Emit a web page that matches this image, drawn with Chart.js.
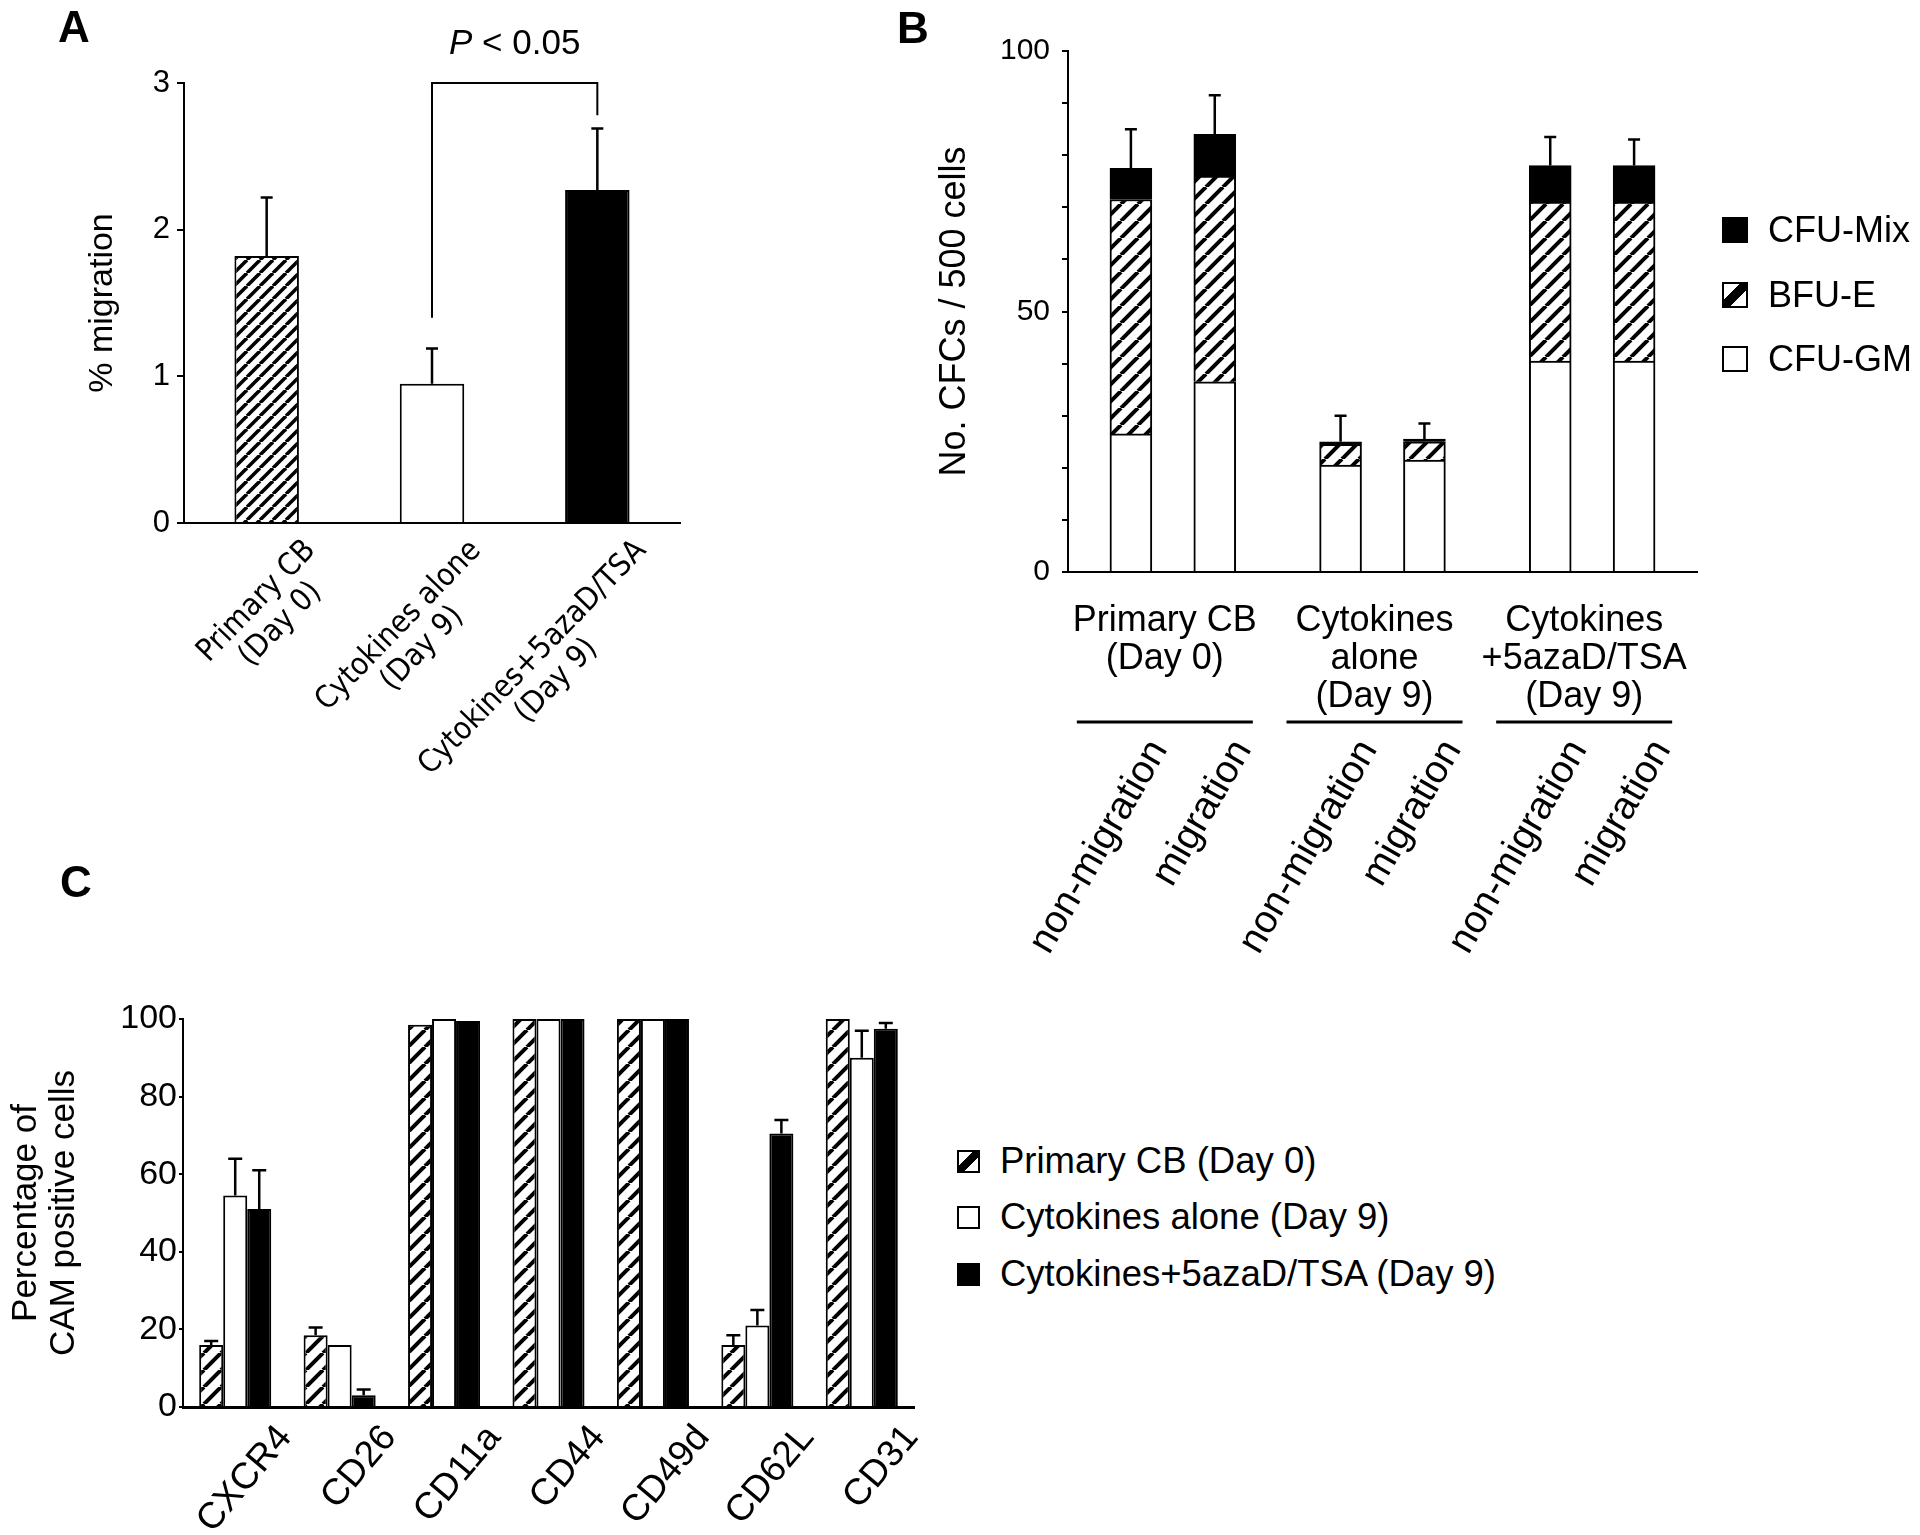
<!DOCTYPE html>
<html><head><meta charset="utf-8">
<script src="https://cdn.jsdelivr.net/npm/chart.js@4.4.1/dist/chart.umd.min.js"></script>
<style>
body{margin:0;background:#fff;}
#wrap{position:relative;width:1920px;height:1535px;overflow:hidden;font-family:"Liberation Sans",Arial,Helvetica,sans-serif;color:#000;background:#fff;}
canvas{position:absolute;}
.letter{position:absolute;font-weight:bold;font-size:44px;line-height:44px;}
.row{position:absolute;height:40px;display:flex;align-items:center;white-space:nowrap;}
.row span.t{line-height:40px;}
.sw{box-sizing:border-box;border:2px solid #000;flex:none;}
</style></head>
<body><div id="wrap">
<canvas id="cA" width="760" height="860" style="left:0;top:0"></canvas>
<canvas id="cB" width="1020" height="1000" style="left:900px;top:0"></canvas>
<canvas id="cC" width="950" height="675" style="left:0;top:860px"></canvas>
<div class="letter" style="left:58px;top:5px">A</div>
<div class="letter" style="left:897px;top:6px">B</div>
<div class="letter" style="left:60px;top:860px">C</div>
<div id="legB"></div>
<div id="legC"></div>
</div>
<script>
// ---------- Panel A data ----------
const groupsA = [["Primary CB", "(Day 0)"], ["Cytokines alone", "(Day 9)"], ["Cytokines+5azaD/TSA", "(Day 9)"]];
const migrationMean = [1.82, 0.95, 2.27];
const migrationErrTop = [2.22, 1.19, 2.69];
const bracketLevel = 3.0;
const bracketLeftEnd = 1.40;
const bracketRightEnd = 2.78;
const pValueText = ["P", " < 0.05"];

// ---------- Panel B data ----------
const cfcBarLabels = ["non-migration", "migration", "non-migration", "migration", "non-migration", "migration"];
const cfcGroupLabels = [["Primary CB", "(Day 0)"], ["Cytokines", "alone", "(Day 9)"], ["Cytokines", "+5azaD/TSA", "(Day 9)"]];
const cfuGM = [26.5, 36.5, 20.5, 21.5, 40.5, 40.5];
const bfuE = [45, 39.5, 4, 3.5, 30.5, 30.5];
const cfuMix = [6, 8, 0.5, 0.5, 7, 7];
const cfcErrTop = [85, 91.5, 30, 28.5, 83.5, 83];
const cfcSeries = ["CFU-GM", "BFU-E", "CFU-Mix"];
const cfcTickValues = [0, 50, 100];

// ---------- Panel C data ----------
const camLabels = ["CXCR4", "CD26", "CD11a", "CD44", "CD49d", "CD62L", "CD31"];
const camSeries = ["Primary CB (Day 0)", "Cytokines alone (Day 9)", "Cytokines+5azaD/TSA (Day 9)"];
const camPrimary = [16, 18.5, 98.5, 100, 100, 16, 100];
const camPrimaryErr = [17, 20.5, null, null, null, 18.5, null];
const camCytokines = [54.5, 16, 100, 100, 100, 21, 90];
const camCytokinesErr = [64, null, null, null, null, 25, 97];
const camAzaTsa = [51, 3, 99.5, 100, 100, 70.5, 97.5];
const camAzaTsaErr = [61, 4.5, null, null, null, 74, 99];

// ---------- layout helpers (not data) ----------
const FONT = '"Liberation Sans", Arial, Helvetica, sans-serif';
const NARROW = '"Liberation Sans Narrow", "Arial Narrow", "DejaVu Sans Condensed", "Liberation Sans", sans-serif';
Chart.defaults.font.family = FONT;
Chart.defaults.color = '#000';
const BLACK = '#000';

function hatch(ctx, period, lw) {
  const c = document.createElement('canvas');
  c.width = period; c.height = period;
  const g = c.getContext('2d');
  g.fillStyle = '#fff'; g.fillRect(0, 0, period, period);
  g.strokeStyle = '#000'; g.lineWidth = lw;
  for (let k = -1; k <= 1; k++) {
    g.beginPath(); g.moveTo(k * period, period); g.lineTo(k * period + period, 0); g.stroke();
  }
  return ctx.createPattern(c, 'repeat');
}

function errorBarPlugin(sets, cap, lw) {
  return {
    id: 'errorBarsCustom',
    afterDatasetsDraw(chart) {
      const ctx = chart.ctx, y = chart.scales.y;
      ctx.save();
      ctx.strokeStyle = BLACK; ctx.lineWidth = lw;
      sets.forEach(set => {
        const meta = chart.getDatasetMeta(set.dataset);
        const vals = chart.data.datasets[set.dataset].data;
        meta.data.forEach((el, i) => {
          const v = set.tops[i];
          if (v == null || vals[i] == null) return;
          const yTop = y.getPixelForValue(v);
          ctx.beginPath();
          ctx.moveTo(el.x, el.y); ctx.lineTo(el.x, yTop);
          ctx.moveTo(el.x - cap, yTop); ctx.lineTo(el.x + cap, yTop);
          ctx.stroke();
        });
      });
      ctx.restore();
    }
  };
}

const axisY = (extra) => Object.assign({
  grid: { drawOnChartArea: false, drawTicks: true, tickLength: 7, color: BLACK, lineWidth: 2 },
  border: { color: BLACK, width: 2 },
}, extra);

// =============== Panel A ===============
const ctxA = document.getElementById('cA').getContext('2d');
const hatchA = hatch(ctxA, 13, 3.5);
const panelALabels = {
  id: 'panelALabels',
  afterDraw(chart) {
    const ctx = chart.ctx, x = chart.scales.x, y = chart.scales.y;
    ctx.save();
    ctx.fillStyle = BLACK;
    ctx.font = '31px ' + NARROW;
    const ang = -46 * Math.PI / 180, lh = 33;
    groupsA.forEach((lines, i) => {
      const px = x.getPixelForValue(i);
      const maxW = Math.max(...lines.map(l => ctx.measureText(l).width));
      ctx.save();
      ctx.translate(px + 33, x.top + 12);
      ctx.rotate(ang);
      ctx.textAlign = 'center'; ctx.textBaseline = 'top';
      lines.forEach((l, j) => ctx.fillText(l, -maxW / 2, j * lh));
      ctx.restore();
    });
    // significance bracket
    const meta = chart.getDatasetMeta(0).data;
    const xl = meta[1].x, xr = meta[2].x;
    const yt = y.getPixelForValue(bracketLevel);
    ctx.strokeStyle = BLACK; ctx.lineWidth = 2;
    ctx.beginPath();
    ctx.moveTo(xl, y.getPixelForValue(bracketLeftEnd));
    ctx.lineTo(xl, yt); ctx.lineTo(xr, yt);
    ctx.lineTo(xr, y.getPixelForValue(bracketRightEnd));
    ctx.stroke();
    const f1 = 'italic 35px ' + FONT, f2 = '35px ' + FONT;
    ctx.font = f1; const w1 = ctx.measureText(pValueText[0]).width;
    ctx.font = f2; const w2 = ctx.measureText(pValueText[1]).width;
    const cx = (xl + xr) / 2, x0 = cx - (w1 + w2) / 2, by = yt - 29;
    ctx.textAlign = 'left'; ctx.textBaseline = 'alphabetic';
    ctx.font = f1; ctx.fillText(pValueText[0], x0, by);
    ctx.font = f2; ctx.fillText(pValueText[1], x0 + w1, by);
    ctx.restore();
  }
};
new Chart(ctxA, {
  type: 'bar',
  data: {
    labels: groupsA.map(g => g.join(' ')),
    datasets: [{
      label: '% migration',
      data: migrationMean,
      backgroundColor: [hatchA, '#fff', BLACK],
      borderColor: BLACK, borderWidth: 2,
      barPercentage: 0.39, categoryPercentage: 1
    }]
  },
  options: {
    responsive: false, animation: false, devicePixelRatio: 1,
    layout: { padding: { left: 0, top: 83, right: 80, bottom: 0 } },
    plugins: { legend: { display: false }, tooltip: { enabled: false } },
    scales: {
      x: { grid: { display: false, drawTicks: false }, border: { color: BLACK, width: 2 }, ticks: { display: false },
           afterFit: s => { s.height = 337; } },
      y: axisY({ min: 0, max: 3,
        ticks: { stepSize: 1, font: { size: 31 }, color: BLACK, padding: 7 },
        title: { display: true, text: '% migration', font: { size: 34 }, color: BLACK, padding: { top: 82, bottom: 0 } },
        afterFit: s => { s.width = 184; } })
    }
  },
  plugins: [errorBarPlugin([{ dataset: 0, tops: migrationErrTop }], 6, 2.5), panelALabels]
});

// =============== Panel B ===============
const nSlots = 15;
const barSlots = [1, 3, 6, 8, 11, 13];
const toSlots = arr => { const a = new Array(nSlots).fill(null); barSlots.forEach((s, i) => { a[s] = arr[i]; }); return a; };
const slotLabels = toSlots(cfcBarLabels).map(v => v == null ? '' : v);

const ctxB = document.getElementById('cB').getContext('2d');
const hatchB = hatch(ctxB, 17, 4);
const panelBGroups = {
  id: 'panelBGroups',
  afterDraw(chart) {
    const ctx = chart.ctx, x = chart.scales.x;
    const els = chart.getDatasetMeta(0).data;
    ctx.save();
    ctx.fillStyle = BLACK; ctx.strokeStyle = BLACK;
    ctx.font = '36px ' + FONT;
    ctx.textAlign = 'center'; ctx.textBaseline = 'middle';
    const lh = 38;
    cfcGroupLabels.forEach((lines, g) => {
      const a = els[barSlots[2 * g]].x, b = els[barSlots[2 * g + 1]].x;
      const cx = (a + b) / 2 - 8;
      lines.forEach((l, j) => ctx.fillText(l, cx, x.top + 49 + j * lh));
      ctx.lineWidth = 3;
      ctx.beginPath();
      ctx.moveTo(cx - 88, x.top + 150); ctx.lineTo(cx + 88, x.top + 150);
      ctx.stroke();
    });
    ctx.restore();
  }
};
const errTopsB = toSlots(cfcErrTop);
new Chart(ctxB, {
  type: 'bar',
  data: {
    labels: slotLabels,
    datasets: [
      { label: cfcSeries[0], data: toSlots(cfuGM), backgroundColor: '#fff' },
      { label: cfcSeries[1], data: toSlots(bfuE), backgroundColor: hatchB },
      { label: cfcSeries[2], data: toSlots(cfuMix), backgroundColor: BLACK }
    ].map(d => Object.assign(d, { borderColor: BLACK, borderWidth: 2, barPercentage: 1, categoryPercentage: 1, stack: 's' }))
  },
  options: {
    responsive: false, animation: false, devicePixelRatio: 1,
    layout: { padding: { left: 0, top: 51, right: 223, bottom: 0 } },
    plugins: { legend: { display: false }, tooltip: { enabled: false } },
    scales: {
      x: { stacked: true, grid: { display: false, drawTicks: false }, border: { color: BLACK, width: 2 },
           ticks: { autoSkip: false, minRotation: 60, maxRotation: 60, font: { size: 39 }, color: BLACK, padding: 160, labelOffset: 28 },
           afterFit: s => { s.height = 428; } },
      y: axisY({ stacked: true, min: 0, max: 100,
        ticks: { stepSize: 10, autoSkip: false, font: { size: 30 }, color: BLACK, padding: 12,
                 callback: v => cfcTickValues.includes(v) ? String(v) : '' },
        grid: { drawOnChartArea: false, drawTicks: true, tickLength: 6, color: BLACK, lineWidth: 2 },
        title: { display: true, text: 'No. CFCs / 500 cells', font: { size: 36 }, color: BLACK, padding: { top: 33, bottom: 0 } },
        afterFit: s => { s.width = 168; } })
    }
  },
  plugins: [errorBarPlugin([{ dataset: 2, tops: errTopsB }], 6, 2.5), panelBGroups]
});

// =============== Panel C ===============
const ctxC = document.getElementById('cC').getContext('2d');
const hatchC = hatch(ctxC, 17, 4);
new Chart(ctxC, {
  type: 'bar',
  data: {
    labels: camLabels,
    datasets: [
      { label: camSeries[0], data: camPrimary, backgroundColor: hatchC },
      { label: camSeries[1], data: camCytokines, backgroundColor: '#fff' },
      { label: camSeries[2], data: camAzaTsa, backgroundColor: BLACK }
    ].map(d => Object.assign(d, { borderColor: BLACK, borderWidth: 2, barPercentage: 1, categoryPercentage: 0.69 }))
  },
  options: {
    responsive: false, animation: false, devicePixelRatio: 1,
    layout: { padding: { left: 0, top: 159, right: 36, bottom: 0 } },
    plugins: { legend: { display: false }, tooltip: { enabled: false } },
    scales: {
      x: { grid: { display: false, drawTicks: false }, border: { color: BLACK, width: 3 },
           ticks: { autoSkip: false, minRotation: 50, maxRotation: 50, font: { size: 37 }, color: BLACK, padding: 10, labelOffset: 50 },
           afterFit: s => { s.height = 128; } },
      y: axisY({ min: 0, max: 100,
        ticks: { stepSize: 20, font: { size: 34 }, color: BLACK, padding: 2 },
        grid: { drawOnChartArea: false, drawTicks: true, tickLength: 4, color: BLACK, lineWidth: 2 },
        title: { display: true, text: ['Percentage of', 'CAM positive cells'], font: { size: 35, lineHeight: 1.1 }, color: BLACK, padding: { top: 7, bottom: 0 } },
        afterFit: s => { s.width = 183; } })
    }
  },
  plugins: [errorBarPlugin([
    { dataset: 0, tops: camPrimaryErr },
    { dataset: 1, tops: camCytokinesErr },
    { dataset: 2, tops: camAzaTsaErr }], 7, 2.5)]
});

// =============== HTML legends ===============
const hatchCss = 'linear-gradient(135deg,#fff 0 36%,#000 36% 64%,#fff 64% 100%)';
function legend(id, items, left, centers, sw, textLeft, fs) {
  const host = document.getElementById(id);
  items.forEach((it, i) => {
    const row = document.createElement('div');
    row.className = 'row';
    row.style.left = left + 'px';
    row.style.top = (centers[i] - 20) + 'px';
    row.style.fontSize = fs + 'px';
    const s = document.createElement('div');
    s.className = 'sw';
    s.style.width = sw + 'px'; s.style.height = sw + 'px';
    s.style.background = it.fill;
    s.style.marginRight = (textLeft - left - sw) + 'px';
    const t = document.createElement('span');
    t.className = 't'; t.textContent = it.label;
    row.appendChild(s); row.appendChild(t);
    host.appendChild(row);
  });
}
legend('legB', [
  { label: cfcSeries[2], fill: '#000' },
  { label: cfcSeries[1], fill: hatchCss },
  { label: cfcSeries[0], fill: '#fff' }
], 1722, [230, 295, 359], 26, 1768, 36);
legend('legC', [
  { label: camSeries[0], fill: hatchCss },
  { label: camSeries[1], fill: '#fff' },
  { label: camSeries[2], fill: '#000' }
], 957, [1161, 1217, 1274], 23, 1000, 36.5);
</script>
</body></html>
